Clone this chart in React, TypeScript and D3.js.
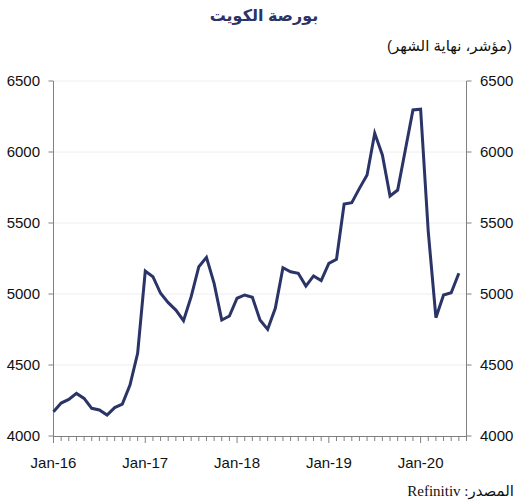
import React from "react";
import * as d3 from "d3";

const months: string[] = (() => {
  const m = ["Jan","Feb","Mar","Apr","May","Jun","Jul","Aug","Sep","Oct","Nov","Dec"];
  const out: string[] = [];
  for (let y = 16; y <= 20; y++) for (const mm of m) out.push(`${mm}-${y}`);
  return out.slice(0, 54);
})();

const indexValues: number[] = [
  4171, 4232, 4258, 4300, 4265, 4195, 4183, 4148, 4200, 4225, 4359, 4582,
  5162, 5122, 5005, 4939, 4887, 4812, 4981, 5192, 5258, 5075, 4817, 4845,
  4970, 4993, 4977, 4817, 4751, 4899, 5185, 5157, 5146, 5056, 5127, 5094,
  5216, 5244, 5634, 5643, 5744, 5838, 6132, 5979, 5690, 5732, 6014, 6296,
  6301, 5440, 4833, 4993, 5009, 5146,
];

const yTicks: number[] = [4000, 4500, 5000, 5500, 6000, 6500];
const xLabels: string[] = ["Jan-16", "Jan-17", "Jan-18", "Jan-19", "Jan-20"];
const xLabelIdx: number[] = [0, 12, 24, 36, 48];

const title = "بورصة الكويت";
const subtitle = "(مؤشر، نهاية الشهر)";
const sourceText = "المصدر: Refinitiv";

export default function App() {
  const W = 520, H = 500;
  const x0 = 53.5, x1 = 466.5, yTop = 81, yBot = 436;
  const x = d3.scaleLinear().domain([0, 54]).range([x0, x1]);
  const y = d3.scaleLinear().domain([4000, 6500]).range([yBot, yTop]);
  const line = d3.line<number>().x((_, i) => x(i)).y((d) => y(d));
  const data = indexValues.map((v, i) => ({ m: months[i], v }));
  const font = "'Liberation Sans', Arial, 'DejaVu Sans', sans-serif";
  const navy = "#2b3467";
  const axisCol = "#808080";
  const monthTicks = d3.range(0, 55);

  return (
    <svg width={W} height={H} style={{ position: "absolute", left: 0, top: 0, background: "#fff" }}>
      <text x={264} y={21} textAnchor="middle" fontFamily={font} fontWeight="bold" fontSize={16} fill={navy}>
        {title}
      </text>
      <text x={512} y={51} direction="rtl" textAnchor="start" fontFamily={font} fontSize={15} fill="#111">
        {subtitle}
      </text>

      {yTicks.slice(1).map((t) => (
        <line key={"g" + t} x1={x0} x2={x1} y1={y(t)} y2={y(t)} stroke="#eeeeee" strokeWidth={1} />
      ))}

      <line x1={x0} x2={x0} y1={yTop} y2={yBot} stroke={axisCol} strokeWidth={1} />
      <line x1={x1} x2={x1} y1={yTop} y2={yBot} stroke={axisCol} strokeWidth={1} />
      <line x1={x0} x2={x1} y1={yBot + 0.5} y2={yBot + 0.5} stroke={axisCol} strokeWidth={1} />

      {yTicks.map((t) => (
        <g key={"yt" + t}>
          <line x1={x0 - 5} x2={x0} y1={y(t)} y2={y(t)} stroke={axisCol} />
          <line x1={x1} x2={x1 + 5} y1={y(t)} y2={y(t)} stroke={axisCol} />
          <text x={40} y={y(t) + 5} textAnchor="end" fontFamily={font} fontSize={15} fill="#111">
            {t}
          </text>
          <text x={480} y={y(t) + 5} textAnchor="start" fontFamily={font} fontSize={15} fill="#111">
            {t}
          </text>
        </g>
      ))}

      {monthTicks.map((i) => (
        <line key={"mt" + i} x1={x(i)} x2={x(i)} y1={yBot} y2={yBot + (i % 12 === 0 ? 7 : 5)} stroke={axisCol} />
      ))}

      {xLabels.map((l, k) => (
        <text key={l} x={x(xLabelIdx[k])} y={468} textAnchor="middle" fontFamily={font} fontSize={15} fill="#111">
          {l}
        </text>
      ))}

      <path d={line(data.map((d) => d.v)) || ""} fill="none" stroke={navy} strokeWidth={3} strokeLinejoin="miter" />

      <text x={514} y={496} direction="rtl" textAnchor="start" fontFamily="'Liberation Serif', 'Times New Roman', 'DejaVu Sans', serif" fontSize={15} fill="#111">
        {sourceText}
      </text>
    </svg>
  );
}
